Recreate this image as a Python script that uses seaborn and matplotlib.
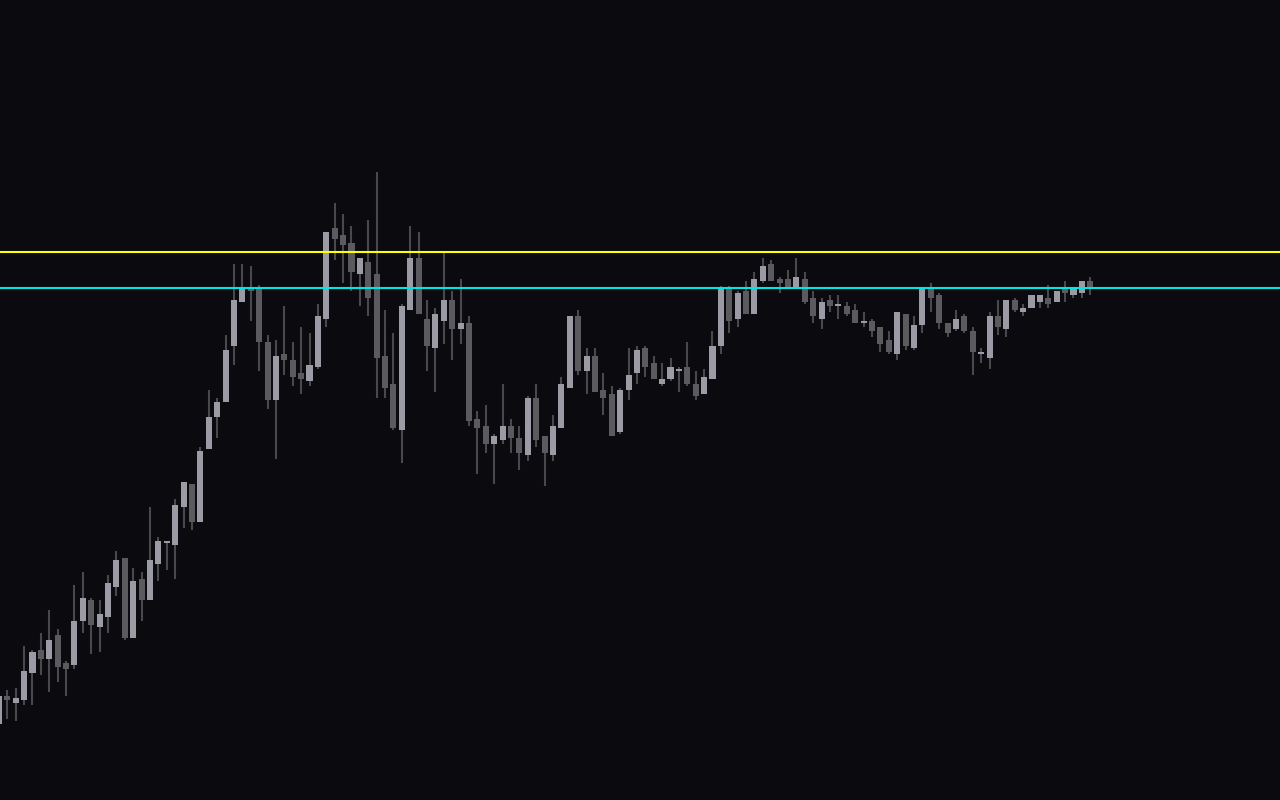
import numpy as np
import pandas as pd
import matplotlib
matplotlib.use("Agg")
import matplotlib.pyplot as plt
import seaborn as sns

# OHLC (price units, hidden axis)
opens = [76, 104, 97, 100, 127, 150, 141, 165, 137, 135, 179, 200, 173, 183, 213, 242, 162, 221, 200, 236,
         257, 255, 293, 316, 278, 351, 383, 398, 454, 498, 511, 513, 458, 400, 446, 440, 427, 419, 433, 481,
         572, 565, 557, 526, 538, 526, 444, 416, 370, 490, 542, 481, 452, 479, 500, 471, 477, 381, 374, 356,
         360, 374, 362, 345, 402, 364, 345, 372, 412, 484, 429, 444, 410, 406, 368, 410, 427, 452, 437, 416,
         421, 429, 433, 416, 406, 421, 454, 512, 481, 509, 486, 519, 536, 521, 521, 513, 521, 502, 481, 500,
         494, 494, 490, 477, 479, 473, 460, 446, 486, 452, 475, 511, 505, 477, 471, 484, 469, 446, 442, 484,
         471, 500, 488, 492, 498, 502, 498, 511, 505, 507, 519]
highs = [107, 110, 112, 154, 150, 167, 190, 171, 139, 215, 228, 202, 200, 225, 249, 242, 232, 228, 293, 263,
         259, 301, 318, 316, 353, 410, 402, 465, 536, 536, 534, 515, 465, 460, 494, 458, 473, 467, 496, 568,
         597, 586, 574, 542, 580, 628, 490, 467, 496, 574, 568, 500, 492, 547, 509, 521, 484, 389, 395, 366,
         416, 381, 374, 404, 416, 364, 385, 423, 484, 490, 452, 452, 427, 414, 412, 452, 454, 454, 444, 437,
         442, 433, 458, 429, 431, 469, 514, 514, 509, 519, 528, 542, 540, 523, 530, 542, 528, 509, 502, 505,
         505, 498, 496, 488, 481, 473, 469, 488, 486, 484, 513, 517, 507, 477, 490, 486, 473, 452, 488, 500,
         500, 502, 496, 505, 505, 515, 509, 519, 511, 519, 523]
lows = [74, 81, 79, 95, 95, 125, 108, 118, 104, 131, 167, 146, 148, 167, 204, 160, 162, 179, 200, 219,
        230, 221, 272, 270, 278, 351, 362, 398, 435, 498, 479, 429, 391, 341, 425, 414, 406, 414, 431, 473,
        540, 517, 509, 494, 484, 402, 402, 370, 337, 490, 486, 429, 408, 456, 440, 456, 374, 326, 347, 316,
        356, 347, 330, 339, 353, 314, 339, 372, 412, 425, 406, 408, 385, 364, 366, 400, 416, 423, 421, 414,
        419, 408, 414, 400, 406, 421, 446, 467, 473, 486, 486, 517, 519, 507, 513, 513, 496, 477, 471, 488,
        481, 484, 477, 473, 463, 448, 446, 440, 450, 450, 467, 488, 471, 463, 469, 467, 425, 437, 431, 465,
        463, 488, 484, 492, 492, 492, 498, 498, 502, 502, 505]
closes = [104, 100, 102, 129, 148, 141, 160, 133, 131, 179, 202, 175, 186, 217, 240, 162, 219, 200, 240, 259,
          259, 295, 318, 278, 349, 383, 398, 450, 500, 512, 509, 458, 400, 444, 440, 423, 421, 435, 484, 568,
          561, 555, 528, 542, 502, 442, 412, 372, 494, 542, 486, 454, 486, 500, 471, 477, 379, 372, 356, 364,
          374, 362, 347, 402, 360, 347, 374, 416, 484, 429, 444, 408, 402, 364, 410, 425, 450, 433, 421, 421,
          433, 431, 416, 404, 423, 454, 512, 479, 507, 486, 521, 534, 519, 517, 513, 523, 498, 484, 498, 494,
          496, 486, 477, 479, 469, 456, 448, 488, 454, 475, 513, 502, 477, 467, 481, 469, 448, 448, 484, 473,
          500, 490, 492, 505, 505, 496, 509, 507, 511, 519, 513]

resistance = 548  # yellow level
support = 512     # cyan level

df = pd.DataFrame({"open": opens, "high": highs, "low": lows, "close": closes})
df["idx"] = np.arange(len(df))
df["up"] = df["close"] >= df["open"]

bg = "#0a0a0f"
up_col = "#9b9ba6"
down_col = "#5a5a5f"
wick_col = "#48484d"

sns.set_theme(style="dark", rc={"axes.facecolor": bg, "figure.facecolor": bg})

fig = plt.figure(figsize=(12.8, 8), dpi=100)
ax = fig.add_axes([0, 0, 1, 1])

# wicks
ax.vlines(df["idx"], df["low"], df["high"], color=wick_col, linewidth=1.5, zorder=1)

# bodies
body_bottom = df[["open", "close"]].min(axis=1)
body_h = (df["close"] - df["open"]).abs().clip(lower=2)
colors = np.where(df["up"], up_col, down_col)
ax.bar(df["idx"], body_h, bottom=body_bottom, width=0.72, color=colors, linewidth=0, zorder=2)

ax.axhline(resistance, color="#ffff00", linewidth=1.5, zorder=3)
ax.axhline(support, color="#00e6e6", linewidth=1.5, zorder=3)

ax.set_xlim(0.131, 152.6)
ax.set_ylim(0, 800)
ax.set_axis_off()

fig.savefig("out.png", dpi=100, facecolor=bg)
